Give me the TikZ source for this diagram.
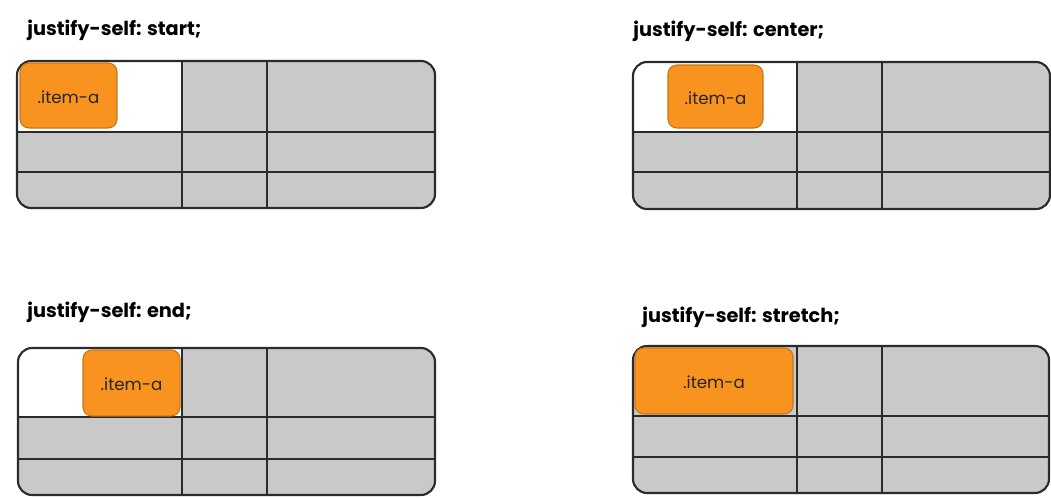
\documentclass[tikz,border=0pt]{standalone}
\usepackage{fontspec}
\setmainfont{Poppins}
\usetikzlibrary{positioning}
\definecolor{cellgray}{HTML}{C9C9C9}
\definecolor{itemorange}{HTML}{F7931E}
\definecolor{gridline}{HTML}{2B2B2B}

\begin{document}
\begin{tikzpicture}[x=0.02cm, y=-0.02cm]
		\tikzstyle{Title} = [anchor=base west, inner sep=0pt, font=\bfseries\fontsize{11}{13}\selectfont, text=black]
		\tikzstyle{Item} = [rectangle, rounded corners=5, draw=itemorange!80!black, line width=0.6pt, fill=itemorange, font=\fontsize{9.5}{11}\selectfont, text=black!85, inner sep=0pt, text height=9pt, text depth=0pt]
		\tikzstyle{line} = [line width=1.2pt, draw=gridline]
		\useasboundingbox (0,0) rectangle (1051,497);
		
		\node (t1) [Title] at (27,35) {justify-self: start;};
		\fill [cellgray, rounded corners=8] (17,61) rectangle (435,208);
		\begin{scope}
		\clip [rounded corners=8] (17,61) rectangle (435,208);
		\fill [white] (17,61) rectangle (182,132);
		\end{scope}
		\draw [line] (182,61) -- (182,208);
		\draw [line] (267,61) -- (267,208);
		\draw [line] (17,132) -- (435,132);
		\draw [line] (17,172) -- (435,172);
		\draw [line, rounded corners=8] (17,61) rectangle (435,208);
		\node (a1) [Item, minimum width=1.94cm, minimum height=1.30cm] at (68.5,95.5) {.item-a};
		
		\node (t2) [Title] at (633,36) {justify-self: center;};
		\fill [cellgray, rounded corners=8] (633,62) rectangle (1050,209);
		\begin{scope}
		\clip [rounded corners=8] (633,62) rectangle (1050,209);
		\fill [white] (633,62) rectangle (797,132);
		\end{scope}
		\draw [line] (797,62) -- (797,209);
		\draw [line] (882,62) -- (882,209);
		\draw [line] (633,132) -- (1050,132);
		\draw [line] (633,172) -- (1050,172);
		\draw [line, rounded corners=8] (633,62) rectangle (1050,209);
		\node (a2) [Item, minimum width=1.90cm, minimum height=1.26cm] at (715.5,96.5) {.item-a};
		
		\node (t3) [Title] at (27,317) {justify-self: end;};
		\fill [cellgray, rounded corners=8] (18,348) rectangle (435,495);
		\begin{scope}
		\clip [rounded corners=8] (18,348) rectangle (435,495);
		\fill [white] (18,348) rectangle (182,417);
		\end{scope}
		\draw [line] (182,348) -- (182,495);
		\draw [line] (267,348) -- (267,495);
		\draw [line] (18,417) -- (435,417);
		\draw [line] (18,459) -- (435,459);
		\draw [line, rounded corners=8] (18,348) rectangle (435,495);
		\node (a3) [Item, minimum width=1.94cm, minimum height=1.32cm] at (131.5,383) {.item-a};
		
		\node (t4) [Title] at (642,322) {justify-self: stretch;};
		\fill [cellgray, rounded corners=8] (633,346) rectangle (1049,493);
		\draw [line] (797,346) -- (797,493);
		\draw [line] (882,346) -- (882,493);
		\draw [line] (633,416) -- (1049,416);
		\draw [line] (633,457) -- (1049,457);
		\draw [line, rounded corners=8] (633,346) rectangle (1049,493);
		\node (a4) [Item, minimum width=3.16cm, minimum height=1.32cm] at (714,381) {.item-a};
\end{tikzpicture}
\end{document}
